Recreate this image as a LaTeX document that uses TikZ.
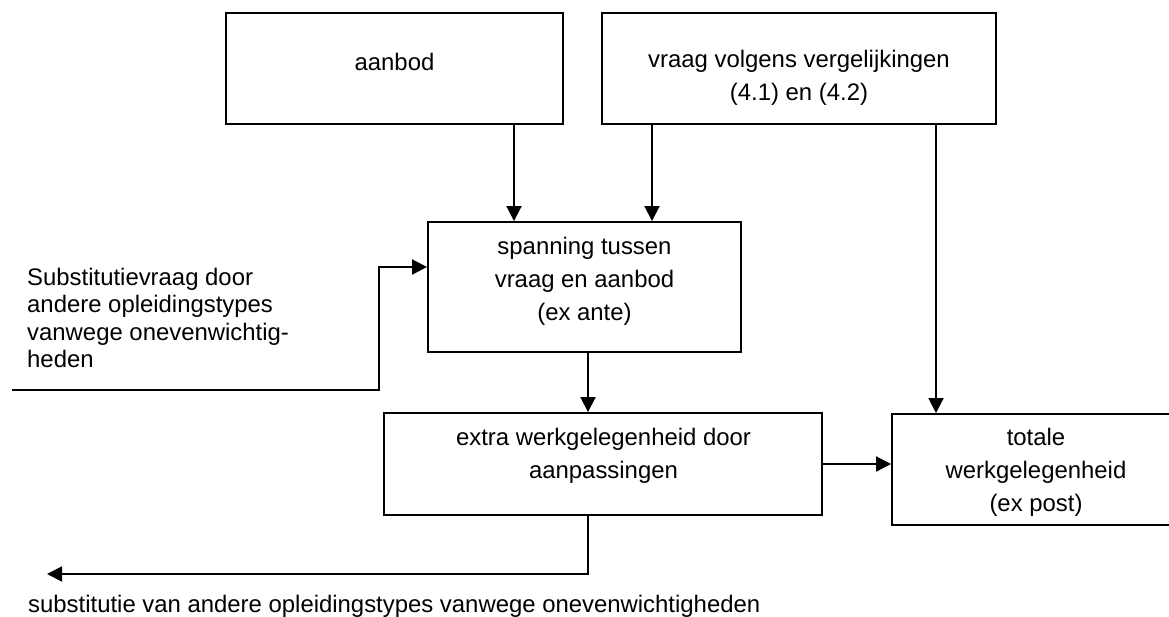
\documentclass[tikz,border=0pt]{standalone}
\usepackage{fontspec}
\setmainfont{Liberation Sans}
\usetikzlibrary{arrows.meta}
\begin{document}
\begin{tikzpicture}[x=1pt,y=-1pt,
  box/.style={draw=black, line width=1.9pt, inner sep=0pt, fill=none},
  txt/.style={inner sep=0pt, align=center, font=\fontsize{23.9}{33}\selectfont},
  sidetxt/.style={inner sep=0pt, align=left, font=\fontsize{23.9}{27.5}\selectfont},
  arr/.style={line width=1.9pt, -{Triangle[length=15pt,width=15pt]}},
  ln/.style={line width=1.9pt}]
\useasboundingbox (0,0) rectangle (1169,617);
\clip (0,0) rectangle (1169,617);
\fill[white] (0,0) rectangle (1169,617);
% boxes
\node[box, minimum width=337pt, minimum height=111pt] (aanbod) at (394.5,68.5) {};
\node[box, minimum width=394pt, minimum height=111pt] (vraag) at (799,68.5) {};
\node[box, minimum width=313pt, minimum height=130pt] (span) at (584.5,287) {};
\node[box, minimum width=438pt, minimum height=102pt] (extra) at (603,464) {};
\node[box, minimum width=288pt, minimum height=111pt] (tot) at (1036,469.5) {};
% texts
\node[txt] (aanbodt) at (394.5,62) {aanbod};
\node[txt] (vraagt) at (799,77.5) {vraag volgens vergelijkingen\\(4.1) en (4.2)};
\node[txt] (spant) at (584.5,281) {spanning tussen\\vraag en aanbod\\(ex ante)};
\node[txt] (extrat) at (603.5,456) {extra werkgelegenheid door\\aanpassingen};
\node[txt] (tott) at (1036,472) {totale\\werkgelegenheid\\(ex post)};
\node[sidetxt, anchor=west] (subsin) at (27,318) {Substitutievraag door\\andere opleidingstypes\\vanwege onevenwichtig-\\heden};
\node[sidetxt, anchor=west] (subsout) at (28,606) {substitutie van andere opleidingstypes vanwege onevenwichtigheden};
% helper coordinates
\coordinate (xa) at (514,0);
\coordinate (xv) at (652,0);
\coordinate (xt) at (936,0);
\coordinate (xs) at (588,0);
\coordinate (inStart) at (12,390);
\coordinate (inCorner) at (379,390);
\coordinate (inTop) at (379,267);
\coordinate (outCorner) at (588,574);
\coordinate (outEnd) at (47,574);
% connectors
\draw[arr] (aanbod.south -| xa) -- (span.north -| xa);
\draw[arr] (vraag.south -| xv) -- (span.north -| xv);
\draw[arr] (vraag.south -| xt) -- (tot.north -| xt);
\draw[arr] (span.south -| xs) -- (extra.north -| xs);
\draw[arr] (extra.east) -- (extra.east -| tot.west);
\draw[arr] (inStart) -- (inCorner) -- (inTop) -- (inTop -| span.west);
\draw[arr] (extra.south -| xs) -- (outCorner) -- (outEnd);
\end{tikzpicture}
\end{document}
